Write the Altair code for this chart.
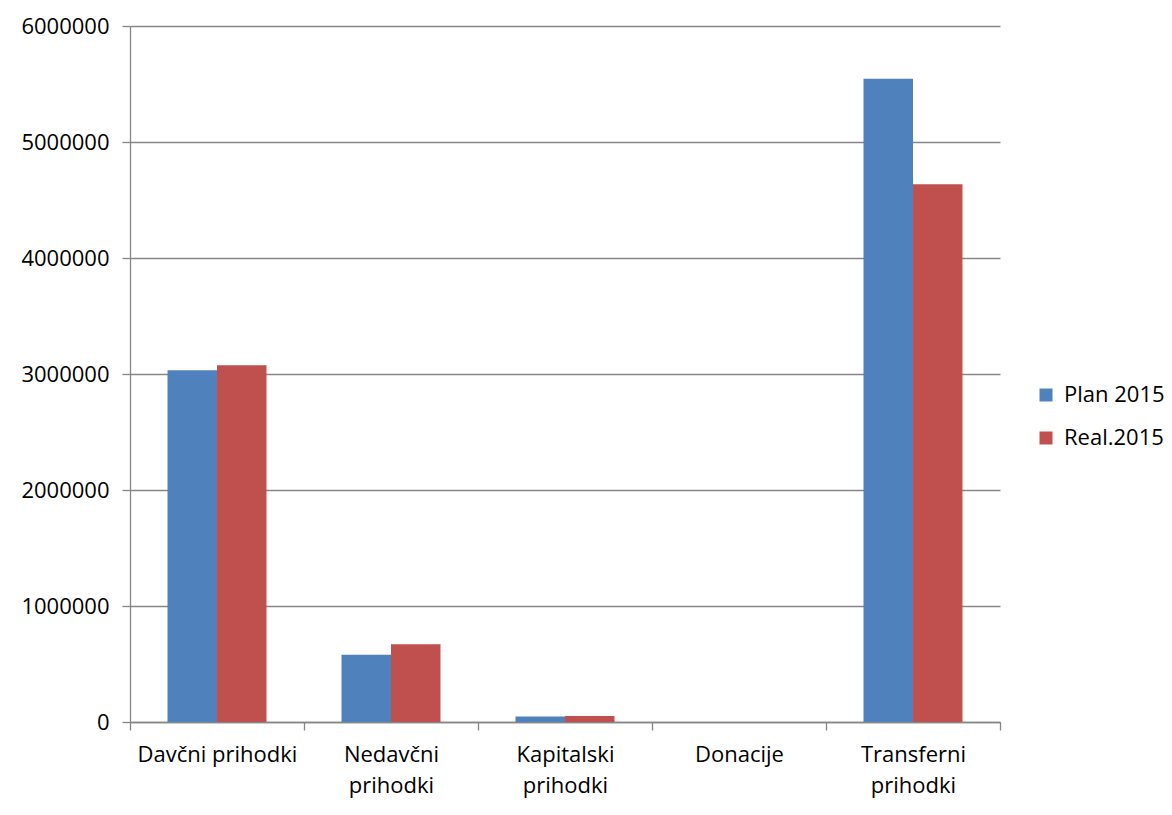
import altair as alt
import pandas as pd

categories = ["Davčni prihodki", "Nedavčni prihodki", "Kapitalski prihodki", "Donacije", "Transferni prihodki"]
series = ["Plan 2015", "Real.2015"]
plan_2015 = [3033000, 580000, 48000, 0, 5545000]
real_2015 = [3076000, 670000, 52000, 0, 4635000]
y_ticks = [0, 1000000, 2000000, 3000000, 4000000, 5000000, 6000000]
colors = ["#4F81BD", "#C0504D"]

rows = []
for c, p, r in zip(categories, plan_2015, real_2015):
    rows.append({"cat": c, "series": series[0], "value": p})
    rows.append({"cat": c, "series": series[1], "value": r})
df = pd.DataFrame(rows)

FONT = "Open Sans"
FS = 22
GRID = "#868686"

chart = alt.Chart(df).mark_bar().encode(
    x=alt.X("cat:N", sort=categories,
            scale=alt.Scale(paddingInner=0, paddingOuter=0),
            axis=alt.Axis(title=None, labelAngle=0, tickBand="extent",
                          labelExpr="datum.label == 'Davčni prihodki' ? datum.label : split(datum.label, ' ')",
                          labelFont=FONT, labelFontSize=FS, labelColor="#000000",
                          labelLineHeight=31, labelPadding=14, labelBaseline="top",
                          domainColor=GRID, tickColor=GRID, tickSize=8,
                          domainWidth=1.3, tickWidth=1.3, grid=False)),
    xOffset=alt.XOffset("series:N", sort=series,
                        scale=alt.Scale(paddingInner=0, paddingOuter=0.758)),
    y=alt.Y("value:Q",
            scale=alt.Scale(domain=[0, 6000000], nice=False),
            axis=alt.Axis(title=None, values=y_ticks, format="d",
                          labelFont=FONT, labelFontSize=FS, labelColor="#000000",
                          labelPadding=13, domainColor=GRID, tickColor=GRID,
                          tickSize=8, gridColor=GRID, gridWidth=1.3,
                          domainWidth=1.3, tickWidth=1.3)),
    color=alt.Color("series:N", sort=series,
                    scale=alt.Scale(domain=series, range=colors),
                    legend=alt.Legend(title=None, orient="none", legendX=905, legendY=358,
                                      symbolType="square", symbolSize=169,
                                      symbolStrokeWidth=0, labelFont=FONT,
                                      labelFontSize=FS, labelColor="#000000",
                                      labelOffset=7, rowPadding=21)),
).properties(
    width=870, height=696,
    autosize=alt.AutoSizeParams(type="none"),
    padding={"left": 122, "top": 18, "right": 164, "bottom": 78},
).configure_view(stroke=None).configure_axis(labelFlush=False)

chart.save("out.html", embed_options={"renderer": "svg", "actions": False})
